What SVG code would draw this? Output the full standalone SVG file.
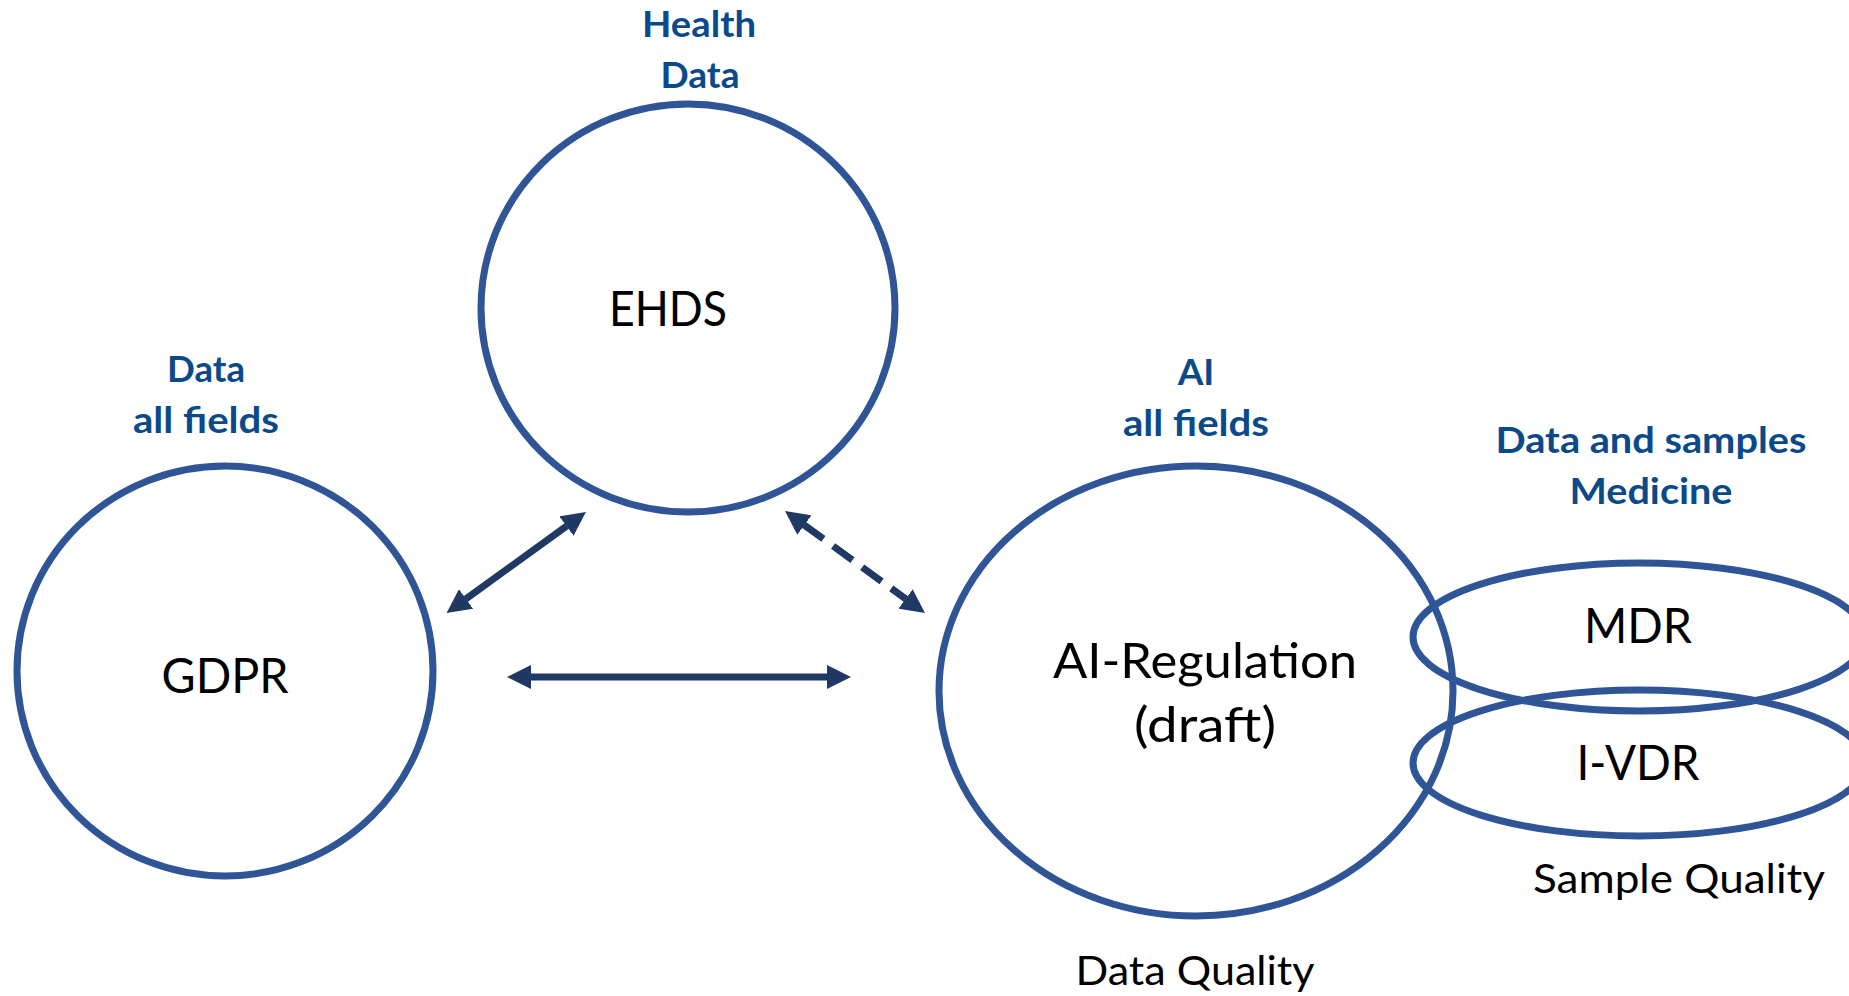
<svg xmlns="http://www.w3.org/2000/svg" width="1849" height="996" viewBox="0 0 1849 996">
<defs>
<style>
.node{fill:none;stroke:#2F5597;stroke-width:7}
.lbl{font-family:Lato,"Liberation Sans",Arial,sans-serif;fill:#000;text-anchor:middle}
.big{font-size:48px}
.mid{font-size:40px}
.cap{font-family:Lato,"Liberation Sans",Arial,sans-serif;font-weight:bold;font-size:37px;fill:#0B4A8A;text-anchor:middle}
.conn{stroke:#203864;stroke-width:7;fill:none}
.dash{stroke-dasharray:24 12}
</style>
<marker id="ah" markerUnits="userSpaceOnUse" markerWidth="24" markerHeight="24" viewBox="0 0 24 24" refX="0.5" refY="12" orient="auto-start-reverse">
<path d="M0,0 L24,12 L0,24 Z" fill="#203864"/>
</marker>
</defs>
<rect width="1849" height="996" fill="#fff"/>

<g id="ehds">
<ellipse class="node" cx="688" cy="308" rx="207" ry="204"/>
<text class="lbl big" x="668" y="326" textLength="118" lengthAdjust="spacingAndGlyphs">EHDS</text>
<text class="cap" x="699" y="37" textLength="114" lengthAdjust="spacingAndGlyphs">Health</text>
<text class="cap" x="700" y="88" textLength="79" lengthAdjust="spacingAndGlyphs">Data</text>
</g>

<g id="gdpr">
<ellipse class="node" cx="225" cy="671" rx="208" ry="205"/>
<text class="lbl big" x="225" y="693" textLength="127" lengthAdjust="spacingAndGlyphs">GDPR</text>
<text class="cap" x="206" y="382" textLength="78" lengthAdjust="spacingAndGlyphs">Data</text>
<text class="cap" x="206" y="433" textLength="146" lengthAdjust="spacingAndGlyphs">all fields</text>
</g>

<g id="ai">
<ellipse class="node" cx="1196" cy="691" rx="257" ry="225"/>
<text class="lbl big" x="1205" y="678" textLength="304" lengthAdjust="spacingAndGlyphs">AI-Regulation</text>
<text class="lbl big" x="1205" y="742" textLength="142" lengthAdjust="spacingAndGlyphs">(draft)</text>
<text class="cap" x="1196" y="385">AI</text>
<text class="cap" x="1196" y="436" textLength="146" lengthAdjust="spacingAndGlyphs">all fields</text>
<text class="lbl mid" x="1195" y="985" textLength="239" lengthAdjust="spacingAndGlyphs">Data Quality</text>
</g>

<g id="mdr">
<ellipse class="node" cx="1639" cy="637" rx="226" ry="74"/>
<text class="lbl big" x="1638" y="643" textLength="108" lengthAdjust="spacingAndGlyphs">MDR</text>
<text class="cap" x="1651" y="453" textLength="311" lengthAdjust="spacingAndGlyphs">Data and samples</text>
<text class="cap" x="1651" y="504" textLength="163" lengthAdjust="spacingAndGlyphs">Medicine</text>
</g>

<g id="ivdr">
<ellipse class="node" cx="1639" cy="763" rx="226" ry="73"/>
<text class="lbl big" x="1638" y="780" textLength="123" lengthAdjust="spacingAndGlyphs">I-VDR</text>
<text class="lbl mid" x="1679" y="893" textLength="292" lengthAdjust="spacingAndGlyphs">Sample Quality</text>
</g>

<g id="connectors">
<line class="conn" x1="530.5" y1="677" x2="827.5" y2="677" marker-start="url(#ah)" marker-end="url(#ah)"/>
<line class="conn" x1="465.6" y1="599.2" x2="566.9" y2="525.8" marker-start="url(#ah)" marker-end="url(#ah)"/>
<line class="conn dash" x1="804" y1="524.8" x2="906" y2="599.2" marker-start="url(#ah)" marker-end="url(#ah)"/>
</g>
</svg>
